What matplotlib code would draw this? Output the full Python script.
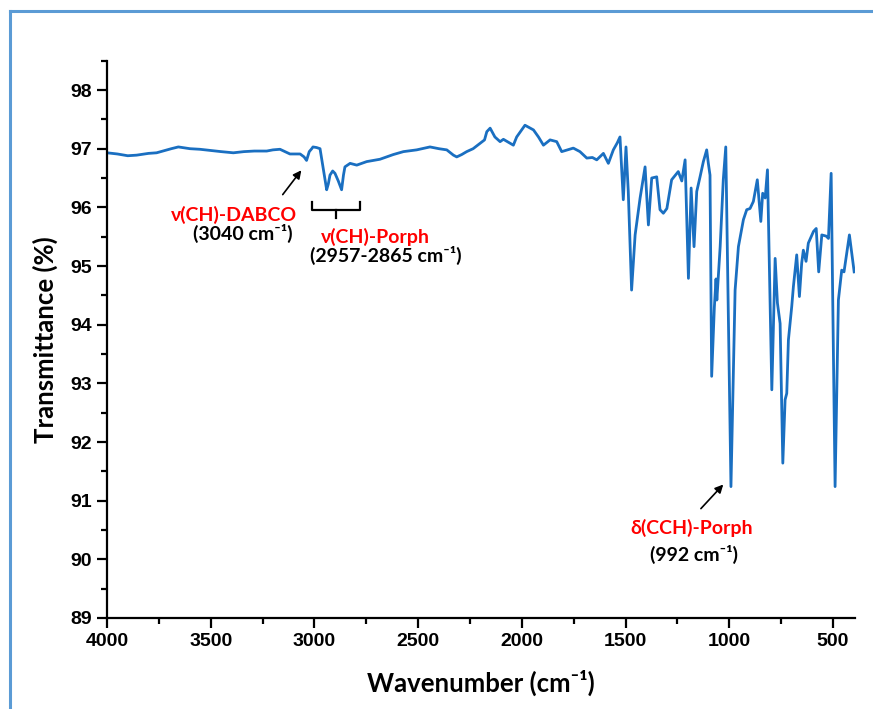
import matplotlib
matplotlib.use("Agg")
import matplotlib.pyplot as plt
from matplotlib.ticker import MultipleLocator
from matplotlib.lines import Line2D

# ---- data ----
wavenumber = [
    4000, 3950, 3900, 3857, 3800, 3761, 3720, 3690, 3656, 3600,
    3552, 3500, 3450, 3391, 3340, 3290, 3230, 3200, 3166, 3118,
    3069, 3050, 3038, 3025, 3013, 3007, 2990, 2973, 2955, 2941,
    2933, 2925, 2912, 2901, 2885, 2869, 2860, 2853, 2828, 2796,
    2748, 2684, 2620, 2571, 2507, 2443, 2400, 2362, 2330, 2314,
    2290, 2266, 2235, 2202, 2180, 2169, 2153, 2130, 2105, 2089,
    2060, 2041, 2025, 2005, 1985, 1965, 1944, 1920, 1896, 1864,
    1832, 1808, 1780, 1752, 1720, 1687, 1660, 1639, 1607, 1583,
    1559, 1540, 1527, 1511, 1498, 1487, 1471, 1454, 1430, 1406,
    1390, 1374, 1350, 1334, 1318, 1301, 1278, 1246, 1229, 1213,
    1197, 1184, 1170, 1157, 1141, 1125, 1109, 1101, 1093, 1085,
    1072, 1064, 1060, 1044, 1029, 1017, 992, 972, 956, 932,
    916, 900, 884, 865, 848, 839, 827, 816, 795, 779,
    768, 755, 742, 731, 723, 715, 699, 691, 675, 662,
    651, 643, 630, 619, 594, 581, 569, 554, 533, 522,
    509, 490, 474, 458, 447, 421, 398,
]
transmittance = [
    96.93, 96.91, 96.88, 96.89, 96.92, 96.93, 96.97, 97.00, 97.03, 97.00,
    96.99, 96.97, 96.95, 96.93, 96.95, 96.96, 96.96, 96.98, 96.99, 96.91,
    96.91, 96.86, 96.80, 96.95, 97.00, 97.03, 97.02, 97.00, 96.60, 96.30,
    96.40, 96.55, 96.62, 96.58, 96.45, 96.30, 96.55, 96.69, 96.75, 96.72,
    96.78, 96.82, 96.90, 96.95, 96.98, 97.03, 97.00, 96.98, 96.89, 96.86,
    96.90, 96.95, 97.00, 97.09, 97.15, 97.29, 97.35, 97.20, 97.12, 97.16,
    97.10, 97.06, 97.20, 97.30, 97.40, 97.36, 97.32, 97.20, 97.06, 97.15,
    97.12, 96.95, 96.98, 97.01, 96.95, 96.84, 96.85, 96.81, 96.92, 96.75,
    96.98, 97.10, 97.20, 96.13, 97.03, 96.27, 94.59, 95.53, 96.16, 96.69,
    95.70, 96.50, 96.52, 95.96, 95.90, 95.98, 96.47, 96.61, 96.45, 96.81,
    94.79, 96.33, 95.33, 96.27, 96.52, 96.78, 96.98, 96.75, 96.55, 93.12,
    94.30, 94.78, 94.42, 95.33, 96.47, 97.03, 91.24, 94.59, 95.33, 95.79,
    95.96, 95.98, 96.10, 96.47, 95.76, 96.24, 96.16, 96.64, 92.89, 95.13,
    94.37, 94.02, 91.64, 92.72, 92.83, 93.74, 94.31, 94.65, 95.19, 94.48,
    95.05, 95.27, 95.08, 95.39, 95.59, 95.64, 94.90, 95.53, 95.51, 95.47,
    96.58, 91.24, 94.42, 94.93, 94.90, 95.53, 94.90,
]
x_ticks = [4000, 3500, 3000, 2500, 2000, 1500, 1000, 500]
y_ticks = [89, 90, 91, 92, 93, 94, 95, 96, 97, 98]

LINE = "#1a6fc1"
RED = "#ff0000"
FAM = ["Lato", "DejaVu Sans"]
ANN = 14

fig = plt.figure(figsize=(8.73, 7.09), dpi=100)
fig.patch.set_facecolor("white")

# light-blue frame (left and top edges visible)
fig.add_artist(Line2D([10 / 873, 10 / 873], [0, 1 - 11 / 709], transform=fig.transFigure,
                      color="#5b9bd5", lw=2.2))
fig.add_artist(Line2D([10 / 873, 1], [1 - 11 / 709, 1 - 11 / 709], transform=fig.transFigure,
                      color="#5b9bd5", lw=2.2))

ax = fig.add_axes([107 / 873, 1 - 618 / 709, (855 - 107) / 873, (618 - 60.7) / 709])
ax.plot(wavenumber, transmittance, color=LINE, lw=2.0, solid_joinstyle="round")

ax.set_xlim(4000, 394)
ax.set_ylim(89, 98.5)
ax.set_xticks(x_ticks)
ax.set_yticks(y_ticks)
ax.xaxis.set_minor_locator(MultipleLocator(250))
ax.yaxis.set_minor_locator(MultipleLocator(0.5))

for s in ["top", "right"]:
    ax.spines[s].set_visible(False)
for s in ["left", "bottom"]:
    ax.spines[s].set_linewidth(1.6)
    ax.spines[s].set_color("black")

ax.tick_params(which="major", direction="out", length=7, width=1.6, labelsize=14, pad=4)
ax.tick_params(which="minor", direction="out", length=4, width=1.6)
for lab in ax.get_xticklabels() + ax.get_yticklabels():
    lab.set_fontfamily("Liberation Sans")
    lab.set_fontweight("bold")

ax.set_xlabel("Wavenumber (cm⁻¹)", fontsize=18.5, fontweight="bold", family=FAM, labelpad=14)
ax.set_ylabel("Transmittance (%)", fontsize=18.5, fontweight="bold", family=FAM, labelpad=9)

# annotations
ax.text(3388, 95.87, "ν(CH)-DABCO", color=RED, fontsize=ANN, fontweight="bold",
        family=FAM, ha="center", va="center")
ax.text(3344, 95.55, "(3040 cm⁻¹)", color="black", fontsize=ANN, fontweight="bold",
        family=FAM, ha="center", va="center")
ax.annotate("", xy=(3055, 96.67), xytext=(3161, 96.18),
            arrowprops=dict(arrowstyle="-|>", color="black", lw=1.2, mutation_scale=12))

# bracket
ax.plot([3012, 3012, 2780, 2780], [96.09, 95.96, 95.96, 96.09], color="black", lw=1.6)
ax.plot([2896, 2896], [95.96, 95.82], color="black", lw=1.6)
ax.text(2708, 95.50, "ν(CH)-Porph", color=RED, fontsize=ANN, fontweight="bold",
        family=FAM, ha="center", va="center")
ax.text(2655, 95.18, "(2957-2865 cm⁻¹)", color="black", fontsize=ANN, fontweight="bold",
        family=FAM, ha="center", va="center")

ax.text(1179, 90.54, "δ(CCH)-Porph", color=RED, fontsize=ANN, fontweight="bold",
        family=FAM, ha="center", va="center")
ax.text(1170, 90.08, "(992 cm⁻¹)", color="black", fontsize=ANN, fontweight="bold",
        family=FAM, ha="center", va="center")
ax.annotate("", xy=(1020, 91.31), xytext=(1146, 90.83),
            arrowprops=dict(arrowstyle="-|>", color="black", lw=1.2, mutation_scale=12))

fig.savefig("out.png", dpi=100)
